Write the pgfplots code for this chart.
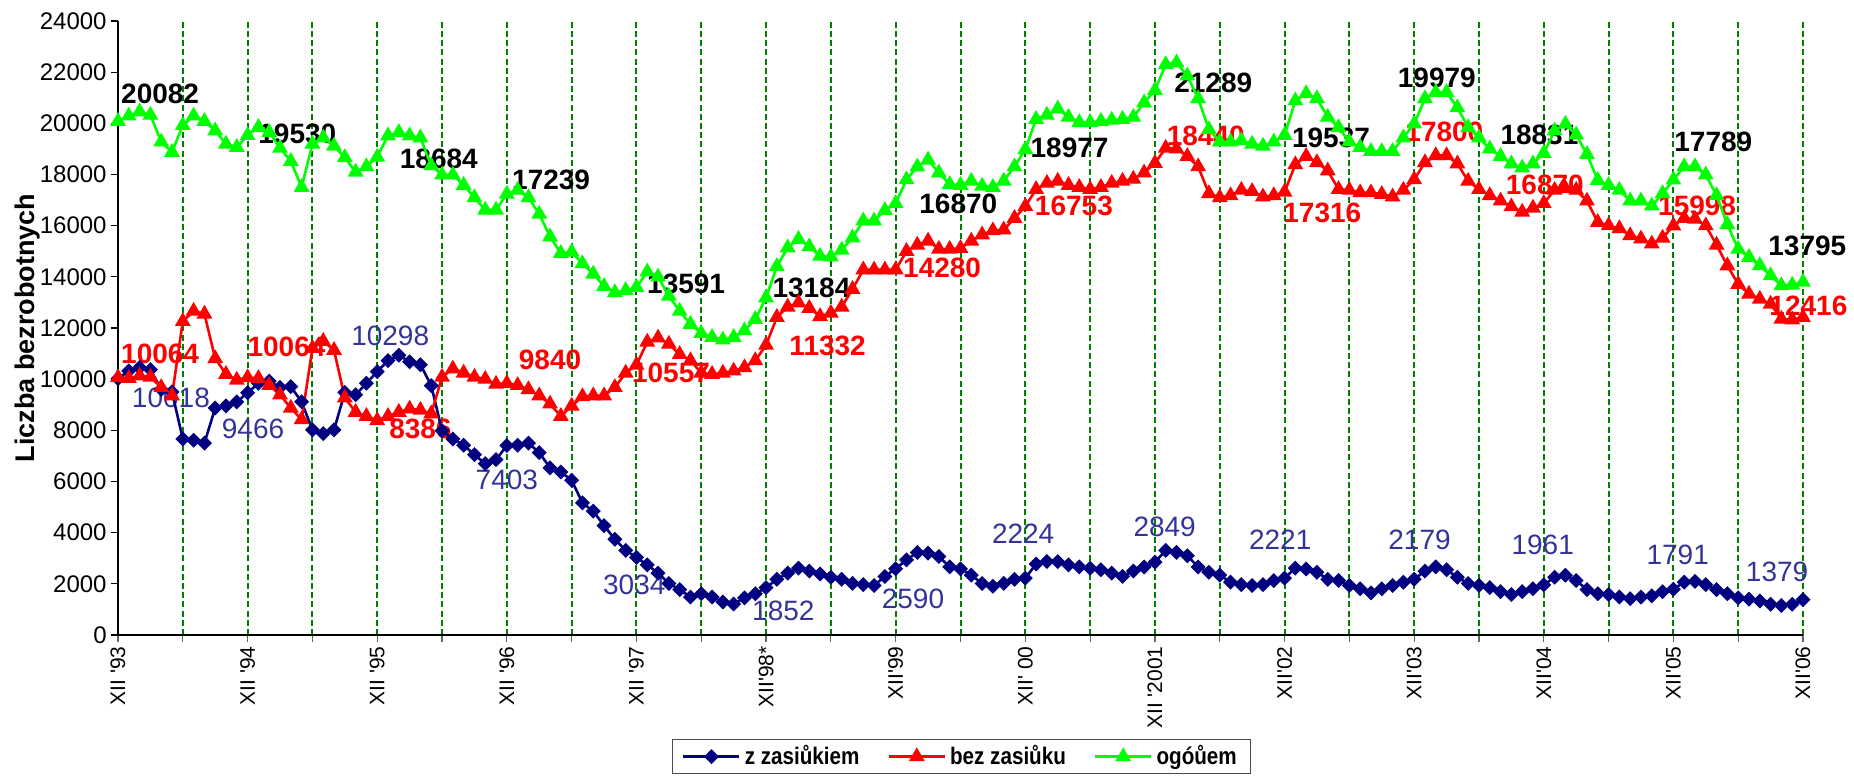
\documentclass[border=0pt]{standalone}
\usepackage{fontspec}
\setmainfont{Liberation Sans}
\newfontfamily\narrowfont{Liberation Sans}[FakeStretch=0.86]
\usepackage{pgfplots}
\pgfplotsset{compat=1.18}
\definecolor{navyb}{RGB}{0,0,128}
\definecolor{redr}{RGB}{255,0,0}
\definecolor{limeg}{RGB}{0,255,0}
\definecolor{lblblue}{RGB}{51,51,153}
\definecolor{gridg}{RGB}{0,128,0}
\newcommand{\lbf}{\fontsize{14}{14}\selectfont\bfseries}
\newcommand{\lnf}{\fontsize{14}{14}\selectfont}
\begin{document}
\begin{tikzpicture}
\path[use as bounding box] (-59pt,-72.5pt) rectangle (868pt,317.5pt);
\begin{axis}[
  at={(0,0)}, anchor=south west,
  scale only axis, width=842.5pt, height=307pt,
  xmin=0, xmax=156, ymin=0, ymax=24000,
  axis x line*=bottom, axis y line*=left,
  axis line style={black, line width=0.6pt},
  xtick={0,6,...,156},
  xticklabels={{XII \textquotesingle 93},{},{XII \textquotesingle 94},{},{XII \textquotesingle 95},{},{XII \textquotesingle 96},{},{XII \textquotesingle 97},{},{XII\textquotesingle 98*},{},{XII\textquotesingle 99},{},{XII\textquotesingle\ 00},{},{XII \textquotesingle 2001},{},{XII\textquotesingle 02},{},{XII\textquotesingle 03},{},{XII\textquotesingle 04},{},{XII\textquotesingle 05},{},{XII\textquotesingle 06}},
  ytick={0,2000,...,24000},
  tick align=outside, major tick length=3.5pt,
  tick style={black!60, line width=0.6pt},
  ytick style={black, line width=0.6pt},
  xmajorgrids=true, ymajorgrids=false,
  x grid style={color=gridg, dash pattern=on 3pt off 1.6pt, line width=1pt},
  xticklabel style={rotate=90, anchor=east, font=\fontsize{10.5}{10.5}\selectfont, inner sep=2pt},
  yticklabel style={font=\fontsize{12}{12}\selectfont, inner sep=2pt},
  /pgf/number format/assume math mode=true,
  /pgf/number format/1000 sep={},
  scaled y ticks=false,
  ylabel={Liczba bezrobotnych},
  ylabel style={at={(axis description cs:-0.0534,0.5)}, anchor=center, font=\fontsize{13.5}{13.5}\selectfont\bfseries},
  clip=false,
  legend columns=3,
  legend style={at={(axis description cs:0.5006,-0.198)}, anchor=center, draw=black!70, line width=0.5pt,
    font=\narrowfont\fontsize{12}{12.5}\selectfont\bfseries, inner xsep=5pt, inner ysep=1pt,
    /tikz/every even column/.append style={column sep=12pt}},
  legend image code/.code={\draw[mark repeat=2,mark phase=2,#1] plot coordinates {(0pt,0pt) (14pt,0pt) (28pt,0pt)};},
]
% data labels (drawn beneath the series)
\node[font=\lbf, text=black] at (axis cs:3.9,21160) {20082};
\node[font=\lbf, text=black] at (axis cs:16.6,19600) {19530};
\node[font=\lbf, text=black] at (axis cs:29.7,18630) {18684};
\node[font=\lbf, text=black] at (axis cs:40.1,17790) {17239};
\node[font=\lbf, text=black] at (axis cs:52.6,13710) {13591};
\node[font=\lbf, text=black] at (axis cs:64.2,13550) {13184};
\node[font=\lbf, text=black] at (axis cs:77.8,16860) {16870};
\node[font=\lbf, text=black] at (axis cs:88.1,19030) {18977};
\node[font=\lbf, text=black] at (axis cs:101.4,21600) {21289};
\node[font=\lbf, text=black] at (axis cs:112.3,19440) {19537};
\node[font=\lbf, text=black] at (axis cs:122.1,21780) {19979};
\node[font=\lbf, text=black] at (axis cs:131.6,19550) {18831};
\node[font=\lbf, text=black] at (axis cs:147.7,19280) {17789};
\node[font=\lbf, text=black] at (axis cs:156.4,15200) {13795};
\node[font=\lbf, text=redr] at (axis cs:3.9,10970) {10064};
\node[font=\lbf, text=redr] at (axis cs:15.6,11260) {10064};
\node[font=\lbf, text=redr] at (axis cs:28.0,8065) {8386};
\node[font=\lbf, text=redr] at (axis cs:40.0,10760) {9840};
\node[font=\lbf, text=redr] at (axis cs:51.2,10240) {10557};
\node[font=\lbf, text=redr] at (axis cs:65.7,11290) {11332};
\node[font=\lbf, text=redr] at (axis cs:76.3,14360) {14280};
\node[font=\lbf, text=redr] at (axis cs:88.5,16780) {16753};
\node[font=\lbf, text=redr] at (axis cs:100.7,19520) {18440};
\node[font=\lbf, text=redr] at (axis cs:111.5,16490) {17316};
\node[font=\lbf, text=redr] at (axis cs:122.8,19650) {17800};
\node[font=\lbf, text=redr] at (axis cs:132.1,17580) {16870};
\node[font=\lbf, text=redr] at (axis cs:146.2,16780) {15998};
\node[font=\lbf, text=redr] at (axis cs:156.5,12850) {12416};
\node[font=\lnf, text=lblblue] at (axis cs:4.9,9275) {10018};
\node[font=\lnf, text=lblblue] at (axis cs:12.5,8065) {9466};
\node[font=\lnf, text=lblblue] at (axis cs:25.2,11690) {10298};
\node[font=\lnf, text=lblblue] at (axis cs:36.0,6050) {7403};
\node[font=\lnf, text=lblblue] at (axis cs:47.8,1940) {3034};
\node[font=\lnf, text=lblblue] at (axis cs:61.6,940) {1852};
\node[font=\lnf, text=lblblue] at (axis cs:73.6,1420) {2590};
\node[font=\lnf, text=lblblue] at (axis cs:83.8,3950) {2224};
\node[font=\lnf, text=lblblue] at (axis cs:96.9,4230) {2849};
\node[font=\lnf, text=lblblue] at (axis cs:107.6,3710) {2221};
\node[font=\lnf, text=lblblue] at (axis cs:120.5,3710) {2179};
\node[font=\lnf, text=lblblue] at (axis cs:131.9,3520) {1961};
\node[font=\lnf, text=lblblue] at (axis cs:144.4,3145) {1791};
\node[font=\lnf, text=lblblue] at (axis cs:153.6,2460) {1379};

\addplot[color=navyb, line width=1.3pt, mark=square*, mark size=2pt, mark options={rotate=45, solid, fill=navyb}] coordinates {
(0,10018)(1,10323)(2,10452)(3,10372)(4,9600)(5,9500)(6,7662)(7,7613)(8,7500)(9,8872)(10,8952)(11,9113)(12,9466)(13,9839)(14,9920)(15,9678)(16,9710)(17,9113)(18,8017)(19,7871)(20,8017)(21,9484)(22,9388)(23,9839)(24,10298)(25,10727)(26,10936)(27,10678)(28,10565)(29,9750)(30,7985)(31,7662)(32,7420)(33,7049)(34,6694)(35,6855)(36,7403)(37,7420)(38,7500)(39,7129)(40,6533)(41,6371)(42,6049)(43,5162)(44,4839)(45,4274)(46,3742)(47,3307)(48,3034)(49,2742)(50,2420)(51,2016)(52,1774)(53,1484)(54,1613)(55,1484)(56,1290)(57,1210)(58,1452)(59,1613)(60,1852)(61,2178)(62,2420)(63,2613)(64,2500)(65,2387)(66,2258)(67,2178)(68,2016)(69,1968)(70,1936)(71,2290)(72,2590)(73,2936)(74,3226)(75,3200)(76,3065)(77,2661)(78,2581)(79,2339)(80,2016)(81,1903)(82,2016)(83,2178)(84,2224)(85,2774)(86,2871)(87,2871)(88,2742)(89,2661)(90,2613)(91,2549)(92,2420)(93,2290)(94,2500)(95,2661)(96,2849)(97,3307)(98,3226)(99,3097)(100,2661)(101,2452)(102,2339)(103,2065)(104,1968)(105,1936)(106,1968)(107,2129)(108,2221)(109,2613)(110,2581)(111,2452)(112,2178)(113,2129)(114,1936)(115,1807)(116,1645)(117,1807)(118,1936)(119,2065)(120,2179)(121,2500)(122,2661)(123,2549)(124,2258)(125,2016)(126,1936)(127,1855)(128,1694)(129,1581)(130,1694)(131,1807)(132,1961)(133,2258)(134,2339)(135,2129)(136,1774)(137,1613)(138,1581)(139,1484)(140,1419)(141,1484)(142,1532)(143,1694)(144,1791)(145,2065)(146,2097)(147,1968)(148,1774)(149,1613)(150,1452)(151,1400)(152,1330)(153,1200)(154,1150)(155,1200)(156,1379)
};
\addlegendentry{z zasiůkiem}
\addplot[color=redr, line width=1.3pt, mark=triangle*, mark size=3.3pt, mark options={solid, fill=redr}] coordinates {
(0,10064)(1,10033)(2,10130)(3,10081)(4,9678)(5,9355)(6,12259)(7,12662)(8,12549)(9,10807)(10,10194)(11,9968)(12,10064)(13,10033)(14,9759)(15,9388)(16,8872)(17,8420)(18,11210)(19,11485)(20,11130)(21,9275)(22,8710)(23,8549)(24,8386)(25,8549)(26,8710)(27,8839)(28,8791)(29,8650)(30,10081)(31,10404)(32,10243)(33,10081)(34,10001)(35,9807)(36,9840)(37,9759)(38,9597)(39,9355)(40,9033)(41,8549)(42,8952)(43,9323)(44,9355)(45,9355)(46,9678)(47,10243)(48,10557)(49,11452)(50,11614)(51,11372)(52,10968)(53,10727)(54,10243)(55,10194)(56,10243)(57,10323)(58,10452)(59,10727)(60,11332)(61,12420)(62,12823)(63,12985)(64,12775)(65,12452)(66,12581)(67,12823)(68,13517)(69,14275)(70,14275)(71,14275)(72,14280)(73,15001)(74,15243)(75,15404)(76,15082)(77,15082)(78,15114)(79,15404)(80,15646)(81,15807)(82,15840)(83,16291)(84,16753)(85,17420)(86,17662)(87,17743)(88,17582)(89,17501)(90,17420)(91,17501)(92,17662)(93,17743)(94,17824)(95,18066)(96,18440)(97,19033)(98,19001)(99,18711)(100,18308)(101,17259)(102,17098)(103,17178)(104,17388)(105,17340)(106,17130)(107,17178)(108,17316)(109,18388)(110,18711)(111,18469)(112,18146)(113,17420)(114,17388)(115,17291)(116,17291)(117,17227)(118,17130)(119,17388)(120,17800)(121,18469)(122,18743)(123,18743)(124,18420)(125,17743)(126,17420)(127,17178)(128,16969)(129,16743)(130,16533)(131,16694)(132,16870)(133,17388)(134,17453)(135,17388)(136,16969)(137,16130)(138,16001)(139,15888)(140,15614)(141,15485)(142,15291)(143,15517)(144,15998)(145,16291)(146,16259)(147,16001)(148,15243)(149,14436)(150,13711)(151,13329)(152,13133)(153,12937)(154,12349)(155,12323)(156,12416)
};
\addlegendentry{bez zasiůku}
\addplot[color=limeg, line width=1.3pt, mark=triangle*, mark size=3.3pt, mark options={solid, fill=limeg}] coordinates {
(0,20082)(1,20291)(2,20453)(3,20324)(4,19275)(5,18872)(6,19921)(7,20291)(8,20082)(9,19711)(10,19195)(11,19066)(12,19530)(13,19850)(14,19650)(15,19033)(16,18517)(17,17501)(18,19195)(19,19437)(20,19114)(21,18663)(22,18098)(23,18308)(24,18684)(25,19517)(26,19646)(27,19517)(28,19437)(29,18350)(30,17985)(31,17985)(32,17582)(33,17098)(34,16614)(35,16614)(36,17239)(37,17388)(38,17098)(39,16453)(40,15566)(41,14920)(42,14969)(43,14517)(44,14114)(45,13630)(46,13388)(47,13469)(48,13591)(49,14194)(50,14000)(51,13250)(52,12660)(53,12150)(54,11790)(55,11640)(56,11540)(57,11640)(58,11900)(59,12340)(60,13184)(61,14410)(62,15140)(63,15470)(64,15180)(65,14810)(66,14780)(67,15050)(68,15530)(69,16190)(70,16190)(71,16600)(72,16870)(73,17800)(74,18300)(75,18570)(76,18066)(77,17614)(78,17582)(79,17743)(80,17550)(81,17501)(82,17743)(83,18308)(84,18977)(85,20163)(86,20324)(87,20566)(88,20243)(89,20034)(90,20034)(91,20082)(92,20130)(93,20163)(94,20243)(95,20808)(96,21289)(97,22300)(98,22370)(99,21856)(100,20969)(101,19759)(102,19275)(103,19275)(104,19324)(105,19195)(106,19114)(107,19275)(108,19537)(109,20888)(110,21163)(111,20969)(112,20243)(113,19840)(114,19275)(115,19066)(116,18905)(117,18905)(118,18905)(119,19437)(120,19979)(121,20969)(122,21211)(123,21211)(124,20614)(125,19840)(126,19437)(127,19001)(128,18711)(129,18421)(130,18259)(131,18421)(132,18831)(133,19711)(134,19969)(135,19549)(136,18791)(137,17775)(138,17582)(139,17388)(140,16969)(141,16969)(142,16775)(143,17259)(144,17789)(145,18308)(146,18308)(147,17985)(148,17178)(149,16049)(150,15082)(151,14767)(152,14440)(153,14048)(154,13656)(155,13682)(156,13795)
};
\addlegendentry{ogóůem}
\end{axis}
\end{tikzpicture}
\end{document}
